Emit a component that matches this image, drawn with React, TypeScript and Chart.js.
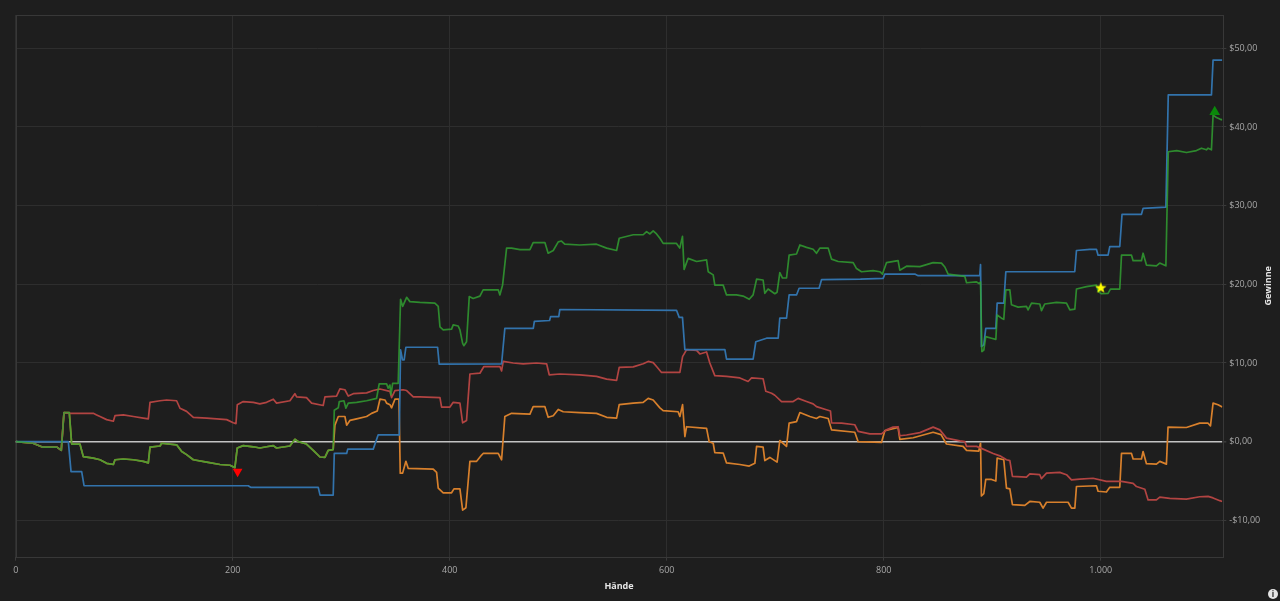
import React, { useEffect, useRef } from "react";
import { Chart, registerables } from "chart.js";

Chart.register(...registerables);

type Pt = [number, number];

// axis ticks / ranges
const handTicks = [0, 200, 400, 600, 800, 1000];
const moneyTicks = [-10, 0, 10, 20, 30, 40, 50];
const handRange = [0, 1112];
const moneyRange = [-14.62, 54.23];

// net won (green)
const netWon: Pt[] = [
  [0, 0], [16, -0.2], [25, -0.7], [38, -0.7], [42, -1.1], [44.5, 3.7], [49.4, 3.7], [51.6, -0.3], [59.2, -0.3],
  [62.3, -1.9], [71.5, -2.1], [77.7, -2.3], [83.8, -2.75], [90, -2.9], [91.5, -2.3], [99.2, -2.2], [108.4, -2.3],
  [117.6, -2.5], [122.2, -2.7], [123.8, -0.7], [133, -0.55], [134.5, -0.2], [148.3, -0.4], [153, -1.25],
  [157.5, -1.65], [163.7, -2.3], [176, -2.6], [188.2, -2.9], [197.5, -3.0], [202, -3.3], [204.2, -0.8],
  [209.7, -0.5], [219, -0.65], [225, -0.8], [231.2, -0.65], [237.4, -0.5], [240.4, -0.8], [252.7, -0.55],
  [257.3, 0.3], [260.4, 0], [268, -0.3], [274.2, -1.1], [280.4, -1.95], [285, -2.0], [288, -1.1], [292.6, -1.0],
  [293.6, 4.0], [297.3, 4.3], [298.2, 5.1], [302.5, 5.2], [304.3, 4.25], [306.5, 4.9], [314.2, 5.0], [323.4, 5.2],
  [332.6, 5.5], [335, 7.35], [341.8, 7.35], [343.3, 6.8], [344.9, 7.2], [345.8, 5.95], [347.4, 7.4], [352.5, 7.4],
  [354.7, 18.1], [356.6, 17.2], [360.3, 18.35], [363.3, 17.8], [372.5, 17.7], [386.3, 17.6], [389.4, 17.2],
  [391, 14.6], [394, 14.2], [401.7, 14.3], [403.2, 14.85], [407.8, 14.7], [409.4, 14.2], [411.9, 12.5],
  [413, 12.2], [415.5, 12.7], [418, 18.45], [421.6, 18.2], [427.8, 18.5], [430.8, 19.3], [444.7, 19.3],
  [446.2, 18.65], [448.7, 19.9], [452.4, 24.6], [457, 24.6], [464.7, 24.4], [473.9, 24.4], [476.9, 25.3],
  [487.7, 25.3], [490.7, 23.95], [495.4, 24.3], [500, 25.4], [503, 25.5], [506, 25.1], [519.8, 25.0],
  [535.3, 25.1], [544.6, 24.6], [553.8, 24.3], [556.2, 25.85], [569.1, 26.3], [578.3, 26.3], [581.4, 26.7],
  [584.5, 26.4], [587.5, 26.8], [590.6, 26.4], [593.7, 25.85], [596.7, 25.2], [609, 25.2], [612, 24.6],
  [614.5, 26.1], [616, 21.9], [619.7, 23.3], [627.5, 22.9], [636.7, 23.1], [638.2, 21.6], [642.8, 21.2],
  [644.3, 19.9], [652, 19.9], [655.1, 18.65], [664.3, 18.65], [670.4, 18.5], [676, 18.1], [679.6, 18.65],
  [682.8, 20.65], [688.8, 20.55], [690.4, 18.85], [693.4, 19.4], [699.6, 18.8], [701.7, 19.0], [704.2, 21.5],
  [706.7, 20.8], [710.4, 20.8], [712.8, 23.7], [719.6, 23.85], [722.7, 25.0], [728.8, 24.7], [734.9, 24.45],
  [738, 23.95], [741.1, 24.6], [748.8, 24.6], [751.9, 23.2], [758, 22.9], [771.8, 22.75], [774.9, 22.0],
  [779.5, 21.6], [790.2, 21.75], [796.4, 21.6], [798.8, 21.3], [802.5, 22.75], [813.2, 23.0], [814.8, 21.8],
  [821, 22.3], [833.3, 22.25], [845.5, 22.75], [853.2, 22.7], [856.3, 22.2], [859.3, 21.3], [874.7, 21.0],
  [876.3, 20.2], [885.5, 20.3], [887.9, 20.1], [889.2, 20.3], [890.4, 11.45], [892.2, 11.65], [894, 13.35],
  [899.3, 13.15], [903.3, 13.0], [904.5, 16.1], [908.5, 15.7], [910.6, 15.55], [912.5, 19.3], [916.2, 19.3],
  [917.7, 17.4], [923.8, 17.1], [931.5, 17.2], [933, 16.75], [936.2, 17.6], [943.8, 17.5], [945.4, 16.65],
  [948.4, 17.5], [959.2, 17.7], [968.4, 17.6], [971.5, 16.75], [976.1, 16.85], [977.6, 19.4], [986.8, 19.7],
  [996, 19.9], [997.5, 19.1], [1000.6, 18.8], [1006.7, 18.85], [1008.9, 19.4], [1017.5, 19.4], [1019.1, 23.7],
  [1028.3, 23.7], [1029.8, 23.0], [1037.5, 23.0], [1039, 23.95], [1042.1, 22.45], [1051.3, 22.35],
  [1054.3, 22.7], [1060, 22.35], [1062.2, 36.85], [1070, 37.0], [1079, 36.75], [1088.2, 37.0], [1092.8, 37.3],
  [1097.4, 37.1], [1098.9, 37.3], [1102, 37.1], [1103.5, 41.5], [1106.6, 41.2], [1109.7, 41.0], [1112, 40.9],
];

// showdown winnings (blue)
const showdown: Pt[] = [
  [0, 0], [48.5, 0], [51, -3.8], [60.8, -3.8], [63, -5.6], [214.3, -5.6], [216.5, -5.8], [278.8, -5.8],
  [280.5, -6.8], [292.6, -6.8], [293.6, -1.5], [305, -1.5], [306, -0.95], [329.5, -0.95], [334, 0.86],
  [353.5, 0.86], [354.7, 11.66], [356.5, 10.4], [358, 10.4], [359.6, 12.0], [388.8, 12.0], [390.3, 9.85],
  [447.8, 9.9], [450.8, 14.4], [477, 14.4], [478, 15.3], [492, 15.4], [493, 15.9], [500.5, 15.9], [501.5, 16.8],
  [609, 16.7], [611.5, 15.8], [614.5, 15.8], [616.7, 11.7], [653.6, 11.7], [655.1, 10.5], [679.6, 10.5],
  [682.1, 12.7], [692, 13.15], [702.7, 13.15], [704.2, 15.7], [710.4, 15.7], [712.8, 18.65], [719.6, 18.65],
  [722, 19.5], [740.4, 19.5], [742.7, 20.6], [778.5, 20.65], [799.4, 20.75], [801, 21.3], [828.6, 21.3],
  [831.7, 21.1], [888.5, 21.1], [889.2, 22.5], [890, 12.1], [892.2, 12.3], [894, 14.4], [903.3, 14.4],
  [904.5, 17.6], [910.6, 17.6], [912.5, 21.6], [976, 21.6], [977.6, 24.3], [989.9, 24.45], [996, 24.45],
  [997.5, 23.7], [1006.7, 23.7], [1008.3, 24.8], [1017.5, 24.8], [1019.6, 28.9], [1037.5, 28.9], [1039, 29.65],
  [1060, 29.8], [1062.2, 44.07], [1102, 44.07], [1103.5, 48.5], [1112, 48.5],
];

// non-showdown winnings (red)
const nonShowdown: Pt[] = [
  [0, 0], [16, -0.2], [25, -0.7], [38, -0.7], [42, -1.1], [44.5, 3.7], [50, 3.6], [71.5, 3.6], [74.6, 3.4],
  [77.7, 3.2], [83.8, 2.8], [90, 2.6], [91.5, 3.3], [99.2, 3.4], [108.4, 3.2], [117.6, 3.0], [122.2, 2.9],
  [123.8, 5.0], [133, 5.2], [139.1, 5.3], [148.3, 5.2], [151.4, 4.25], [157.5, 3.85], [163.7, 3.1], [176, 3.0],
  [185.2, 2.9], [194.4, 2.8], [200.5, 2.4], [203, 2.3], [204.2, 4.7], [209.7, 5.1], [219, 5.0], [225, 4.8],
  [231.2, 5.0], [237.4, 5.4], [240.4, 4.9], [252.7, 5.2], [257.3, 6.1], [258.9, 5.7], [268, 5.6], [272.7, 4.9],
  [283.4, 4.6], [285, 5.7], [295.7, 5.8], [298.8, 6.7], [303.4, 6.6], [306.5, 5.8], [311.1, 6.1], [323.4, 6.2],
  [329.5, 6.5], [335.7, 6.7], [344.9, 6.4], [346.4, 5.6], [349.5, 6.5], [357, 6.6], [360.3, 6.5], [366.4, 5.7],
  [372.5, 5.7], [391, 5.6], [392.5, 4.4], [400.2, 4.4], [403.2, 5.0], [409.4, 4.9], [411.9, 2.4], [415.5, 2.7],
  [418.6, 8.6], [427.8, 8.7], [431.5, 9.55], [446.2, 9.55], [447.8, 9.0], [449.3, 10.2], [458.5, 10.0],
  [467.7, 9.9], [480, 10.0], [489.3, 9.9], [491.7, 8.5], [501.5, 8.6], [519.9, 8.5], [535.3, 8.3],
  [544.6, 7.95], [553.8, 7.8], [556.2, 9.45], [569.1, 9.5], [578.3, 9.9], [582.9, 10.2], [587.5, 10.05],
  [590.6, 9.55], [595.2, 8.8], [612.1, 8.8], [614.6, 10.8], [618.3, 11.7], [627.5, 11.6], [630.5, 11.15],
  [636.7, 11.4], [639.7, 10.0], [644.3, 8.4], [655.1, 8.3], [667.4, 8.1], [675, 7.65], [678.2, 8.1],
  [688.8, 8.0], [691.3, 6.4], [696.6, 6.15], [699.6, 5.9], [705.8, 5.1], [716.5, 5.1], [721.1, 5.5],
  [728.8, 5.1], [734.9, 4.8], [738, 4.45], [747.2, 4.05], [750.9, 3.9], [751.9, 2.4], [761.1, 2.35],
  [773.3, 2.15], [776.4, 1.3], [787.2, 1.0], [797.9, 1.0], [802.5, 1.5], [808.6, 1.85], [813.2, 1.9],
  [814.8, 0.75], [821, 0.85], [833.3, 1.15], [845.5, 1.85], [851.7, 1.5], [857.8, 0.45], [870.1, 0.1],
  [874.7, 0.0], [876.3, -0.6], [885.5, -0.6], [890, -0.85], [900.8, -1.5], [907, -1.8], [913.1, -2.3],
  [916.2, -2.4], [918.6, -4.4], [931.5, -4.5], [934.6, -4.1], [943.8, -4.2], [945.3, -4.7], [950, -4.0],
  [962.2, -3.9], [968.4, -4.2], [973, -4.85], [980.6, -4.75], [992.9, -4.65], [1005.2, -5.05], [1019.1, -5.05],
  [1029.8, -5.3], [1032.9, -5.7], [1040.6, -6.05], [1043.6, -7.4], [1051.3, -7.4], [1054.4, -7.05],
  [1063.6, -7.2], [1078.9, -7.3], [1091.2, -7.0], [1098.9, -6.95], [1103.5, -7.15], [1109.7, -7.5], [1112, -7.6],
];

// all-in EV adjusted (orange)
const allInEv: Pt[] = [
  [0, 0], [16, -0.2], [25, -0.7], [38, -0.7], [42, -1.1], [44.5, 3.7], [49.4, 3.7], [51.6, -0.3], [59.2, -0.3],
  [62.3, -1.9], [71.5, -2.1], [77.7, -2.3], [83.8, -2.75], [90, -2.9], [91.5, -2.3], [99.2, -2.2], [108.4, -2.3],
  [117.6, -2.5], [122.2, -2.7], [123.8, -0.7], [133, -0.55], [134.5, -0.2], [148.3, -0.4], [153, -1.25],
  [157.5, -1.65], [163.7, -2.3], [176, -2.6], [188.2, -2.9], [197.5, -3.0], [202, -3.3], [204.2, -0.8],
  [209.7, -0.5], [219, -0.65], [225, -0.8], [231.2, -0.65], [237.4, -0.5], [240.4, -0.8], [252.7, -0.55],
  [257.3, 0.3], [260.4, 0], [268, -0.3], [274.2, -1.1], [280.4, -1.95], [285, -2.0], [288, -1.1], [292.6, -1.0],
  [294.2, 2.1], [297.3, 3.2], [303.4, 3.2], [305, 2.1], [308, 2.7], [314.2, 2.9], [323.4, 3.2], [328, 3.6],
  [333.2, 3.9], [335.7, 5.4], [340.3, 5.3], [341.8, 4.9], [344.9, 4.7], [346.4, 4.3], [349.5, 5.4], [353.2, 5.4],
  [354.4, -4.0], [356.6, -4.0], [359.6, -2.5], [361.8, -3.4], [384.8, -3.5], [387.9, -3.9], [389.4, -5.9],
  [394, -6.5], [401.7, -6.5], [403.9, -6.0], [409.4, -6.0], [411.9, -8.7], [414.9, -8.4], [418.6, -2.5],
  [424.8, -2.5], [429.4, -1.7], [430.8, -1.5], [444.7, -1.5], [447.8, -2.3], [450.8, 3.2], [457, 3.6],
  [473.9, 3.5], [476.9, 4.45], [487.7, 4.45], [490.7, 3.1], [495.4, 3.3], [500, 4.1], [504.6, 3.8], [519.9, 3.7],
  [535.3, 3.6], [544.6, 3.1], [553.8, 3.0], [556.2, 4.7], [569.1, 4.9], [578.3, 5.0], [582.9, 5.5], [587.5, 5.3],
  [593.7, 4.3], [596.7, 3.95], [610.5, 3.8], [612.1, 3.2], [614.6, 4.7], [616.7, 0.65], [618.3, 1.9],
  [636.7, 1.7], [639.1, 0.0], [642.8, -0.2], [644.3, -1.4], [652, -1.45], [655.1, -2.7], [667.4, -2.9],
  [676, -3.1], [681.2, -2.75], [682.8, -0.6], [688.8, -0.7], [690.4, -2.4], [695, -2.0], [701.7, -2.6],
  [704.2, 0.15], [710.4, -0.6], [712.8, 2.35], [719.6, 2.55], [722.7, 3.7], [731.9, 3.2], [738, 2.95],
  [741.1, 3.2], [748.8, 2.95], [751.9, 1.5], [773.3, 1.2], [776.4, 0.0], [797.9, -0.1], [801, 1.4],
  [813.2, 1.8], [814.8, 0.3], [827.1, 0.5], [845.5, 1.2], [852.8, 0.9], [857.8, -0.3], [873.1, -0.6],
  [876.3, -1.1], [887.5, -1.2], [889.2, -0.2], [890, -6.9], [892.2, -6.6], [894, -4.8], [899.3, -4.8],
  [903.3, -5.0], [904.5, -2.1], [910.6, -2.3], [913.1, -5.9], [916.2, -6.0], [918.6, -8.0], [930, -8.1],
  [934.6, -7.6], [943.8, -7.7], [946.8, -8.45], [950, -7.7], [969.9, -7.7], [973, -8.45], [976.1, -8.45],
  [977.6, -5.7], [996, -5.6], [997.5, -6.3], [1005.2, -6.4], [1008.3, -5.8], [1017.5, -5.8], [1019.1, -1.5],
  [1028.3, -1.5], [1029.8, -2.2], [1037.5, -2.2], [1039, -1.25], [1042.1, -2.8], [1051.3, -2.85],
  [1054.4, -2.5], [1060.5, -2.85], [1062, 1.85], [1078.9, 1.8], [1091.2, 2.35], [1098.9, 2.35], [1101.1, 2.0],
  [1103.5, 4.9], [1108.1, 4.7], [1112, 4.4],
];

// markers
const lowestMarker: Pt[] = [[204.5, -3.8]];
const starMarker: Pt[] = [[1000, 19.6]];
const highestMarker: Pt[] = [[1105, 41.9]];

const FONT = '"Open Sans", "Liberation Sans", sans-serif';

const toXY = (pts: Pt[]) => pts.map(([x, y]) => ({ x, y }));
const fmtHand = (v: number) => String(v).replace(/\B(?=(\d{3})+(?!\d))/g, ".");
const fmtMoney = (v: number) => (v < 0 ? "-" : "") + "$" + Math.abs(v).toFixed(2).replace(".", ",");

function makeStar(): HTMLCanvasElement {
  const c = document.createElement("canvas");
  c.width = 14;
  c.height = 14;
  const g = c.getContext("2d")!;
  g.fillStyle = "#ffff00";
  g.beginPath();
  for (let i = 0; i < 10; i++) {
    const r = i % 2 === 0 ? 6 : 2.6;
    const a = -Math.PI / 2 + (i * Math.PI) / 5;
    const px = 7 + r * Math.cos(a);
    const py = 7.5 + r * Math.sin(a);
    if (i === 0) g.moveTo(px, py);
    else g.lineTo(px, py);
  }
  g.closePath();
  g.fill();
  return c;
}

const framePlugin = {
  id: "frame",
  beforeDraw(chart: any) {
    const { ctx, width, height } = chart;
    ctx.save();
    ctx.fillStyle = "#1e1e1e";
    ctx.fillRect(0, 0, width, height);
    ctx.restore();
  },
  beforeDatasetsDraw(chart: any) {
    const { ctx, chartArea } = chart;
    ctx.save();
    ctx.strokeStyle = "#383838";
    ctx.lineWidth = 1;
    ctx.strokeRect(
      Math.round(chartArea.left) + 0.5,
      Math.round(chartArea.top) + 0.5,
      Math.round(chartArea.right - chartArea.left),
      Math.round(chartArea.bottom - chartArea.top)
    );
    ctx.restore();
  },
  afterDraw(chart: any) {
    const { ctx, chartArea, width } = chart;
    ctx.save();
    ctx.translate(width - 12, (chartArea.top + chartArea.bottom) / 2);
    ctx.rotate(-Math.PI / 2);
    ctx.fillStyle = "#e6e6e6";
    ctx.font = `bold 9px ${FONT}`;
    ctx.textAlign = "center";
    ctx.textBaseline = "middle";
    ctx.fillText("Gewinne", 0, 0);
    ctx.restore();
  },
};

export default function App() {
  const ref = useRef<HTMLCanvasElement>(null);

  useEffect(() => {
    const canvas = ref.current;
    if (!canvas) return;
    const star = makeStar();
    const line = (label: string, pts: Pt[], color: string, order: number) => ({
      type: "line" as const,
      label,
      data: toXY(pts),
      borderColor: color,
      borderWidth: 1.7,
      borderJoinStyle: "round",
      pointRadius: 0,
      pointHoverRadius: 0,
      tension: 0,
      fill: false,
      order,
    });
    const marker = (label: string, pts: Pt[], style: any, color: string, rotation: number, radius: number) => ({
      type: "line" as const,
      label,
      data: toXY(pts),
      showLine: false,
      pointStyle: style,
      pointRotation: rotation,
      pointRadius: radius,
      pointBackgroundColor: color,
      pointBorderColor: color,
      pointBorderWidth: 0,
      order: 0,
    });

    const chart = new Chart(canvas, {
      type: "line",
      data: {
        datasets: [
          marker("Tiefpunkt", lowestMarker, "triangle", "#ff0000", 180, 5.6),
          marker("Stern", starMarker, star, "#ffff00", 0, 6),
          marker("Höchstpunkt", highestMarker, "triangle", "#0a8a0a", 0, 6.2),
          line("Gewinne", netWon, "rgba(50,165,50,0.8)", 1),
          line("Showdown", showdown, "rgb(50,115,172)", 2),
          line("Non-Showdown", nonShowdown, "rgb(178,68,66)", 3),
          line("All-in EV", allInEv, "rgb(216,128,44)", 4),
        ] as any,
      },
      options: {
        animation: false,
        responsive: false,
        devicePixelRatio: 1,
        events: [],
        layout: { padding: { top: 15, left: 15.7, right: 0, bottom: 0 } },
        plugins: {
          legend: { display: false },
          tooltip: { enabled: false },
          title: { display: false },
        },
        scales: {
          x: {
            type: "linear",
            position: "bottom",
            min: handRange[0],
            max: handRange[1],
            afterBuildTicks: (s: any) => {
              s.ticks = handTicks.map((value) => ({ value }));
            },
            afterFit: (s: any) => {
              s.height = 44.3;
            },
            ticks: {
              autoSkip: false,
              maxRotation: 0,
              padding: 4,
              color: "#a8a8a8",
              font: { family: FONT, size: 9 },
              callback: (v: any) => fmtHand(Number(v)),
            },
            grid: {
              color: "#2e2e2e",
              tickColor: "#3a3a3a",
              tickLength: 4,
              lineWidth: 1,
            },
            border: { display: false },
            title: {
              display: true,
              text: "Hände",
              color: "#e6e6e6",
              font: { family: FONT, size: 9, weight: "bold" },
              padding: { top: 0, bottom: 9.6 },
            },
          },
          y: {
            type: "linear",
            position: "right",
            min: moneyRange[0],
            max: moneyRange[1],
            afterBuildTicks: (s: any) => {
              s.ticks = moneyTicks.map((value) => ({ value }));
            },
            afterFit: (s: any) => {
              s.width = 57.7;
            },
            ticks: {
              autoSkip: false,
              padding: 3,
              color: "#a8a8a8",
              font: { family: FONT, size: 9 },
              callback: (v: any) => fmtMoney(Number(v)),
            },
            grid: {
              color: (c: any) => (c.tick && c.tick.value === 0 ? "#c4c4c4" : "#2e2e2e"),
              lineWidth: (c: any) => (c.tick && c.tick.value === 0 ? 1.6 : 1),
              tickColor: "#3a3a3a",
              tickLength: 4,
            },
            border: { display: false },
            title: { display: false },
          },
        },
      },
      plugins: [framePlugin],
    } as any);

    return () => chart.destroy();
  }, []);

  return (
    <div
      style={{
        position: "absolute",
        left: 0,
        top: 0,
        width: 1280,
        height: 601,
        background: "#1e1e1e",
        overflow: "hidden",
      }}
    >
      <canvas ref={ref} width={1280} height={601} style={{ display: "block", width: 1280, height: 601 }} />
      <div
        style={{
          position: "absolute",
          left: 1268,
          top: 589,
          width: 10,
          height: 10,
          borderRadius: "50%",
          background: "#e4e4e4",
          color: "#1e1e1e",
          fontFamily: FONT,
          fontWeight: "bold",
          fontSize: 8,
          lineHeight: "10px",
          textAlign: "center",
        }}
      >
        i
      </div>
    </div>
  );
}
